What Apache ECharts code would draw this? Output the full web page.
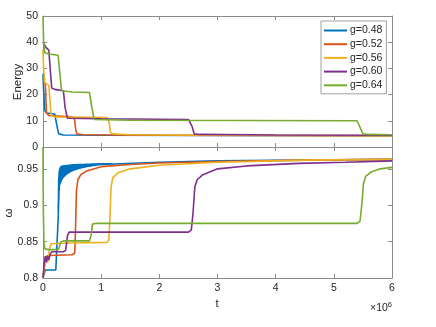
<!DOCTYPE html>
<html><head><meta charset="utf-8">
<script src="https://cdn.jsdelivr.net/npm/echarts@6/dist/echarts.min.js"></script>
<style>html,body{margin:0;padding:0;background:#fff}#c{width:436px;height:327px}</style>
</head><body><div id="c"></div>
<script>
// time in units of 1e6
const names = ['g=0.48','g=0.52','g=0.56','g=0.60','g=0.64'];
const colors = ['#0072BD','#D95319','#EDB120','#7E2F8E','#77AC30'];
const xTicks = [0,1,2,3,4,5,6];

// Energy panel
const eT1 = [0,0.01,0.03,0.06,0.2,0.23,0.25,0.27,0.35,1,3,6];
const eV1 = [28,22,14,13,12.6,12.3,7,5,4.6,4.5,4.4,4.3];
const eT2 = [0,0.02,0.04,0.06,0.1,0.5,0.54,0.56,0.58,0.7,2,6];
const eV2 = [26,25,24,13,12,11.5,11,7,5,4.7,4.5,4.3];
const eT3 = [0,0.01,0.03,0.1,0.12,0.14,0.2,1.1,1.14,1.16,1.2,1.5,3,6];
const eV3 = [37,30,24.5,23.5,18,12,11.5,11.2,9,5.5,5,4.7,4.5,4.3];
const eT4 = [0,0.05,0.1,0.13,0.15,0.2,0.35,0.38,0.42,1,2.5,2.56,2.6,2.7,4,6];
const eV4 = [40,38,37,28,22.5,22,21.5,15,11,10.8,10.5,8,5,4.8,4.6,4.5];
const eT5 = [0,0.01,0.03,0.1,0.26,0.29,0.32,0.5,0.8,0.84,0.88,1.5,5.4,5.46,5.5,5.6,6];
const eV5 = [50,40,36,35.5,35,28,21.5,21,20.8,15,10.5,10.2,10,7,5,4.8,4.7];

// omega panel
const wT1 = [0,0.02,0.04,0.22,0.245,0.26,0.28,0.32,0.4,0.6,1,2,3,4.5,6];
const wV1 = [0.800,0.806,0.811,0.811,0.813,0.88,0.93,0.942,0.948,0.952,0.956,0.959,0.961,0.962,0.963];
const wT2 = [0,0.02,0.04,0.06,0.1,0.5,0.545,0.56,0.575,0.6,0.65,0.75,1,1.5,2,3,4.5,6];
const wV2 = [0.8,0.812,0.826,0.83,0.831,0.832,0.834,0.87,0.92,0.935,0.942,0.947,0.953,0.956,0.958,0.96,0.962,0.963];
const wT3 = [0,0.02,0.05,0.09,0.11,0.14,0.5,1.1,1.13,1.15,1.17,1.2,1.3,1.5,2,3,4.5,6];
const wV3 = [0.8,0.815,0.822,0.823,0.84,0.847,0.848,0.849,0.852,0.88,0.925,0.938,0.945,0.95,0.955,0.959,0.962,0.963];
const wT4 = [0,0.02,0.04,0.06,0.08,0.1,0.12,0.15,0.35,0.39,0.42,0.45,1,2.5,2.55,2.58,2.61,2.65,2.75,3,3.5,4.4,5.2,6];
const wV4 = [0.8,0.82,0.83,0.822,0.83,0.825,0.832,0.836,0.836,0.838,0.858,0.863,0.863,0.863,0.866,0.89,0.925,0.935,0.942,0.95,0.954,0.9575,0.959,0.961];
const wT5 = [0,0.005,0.015,0.03,0.1,0.26,0.28,0.3,0.35,0.8,0.83,0.85,0.9,2,5.4,5.45,5.48,5.51,5.55,5.65,5.8,6];
const wV5 = [0.98,0.9,0.85,0.84,0.839,0.839,0.842,0.849,0.851,0.851,0.86,0.874,0.875,0.875,0.875,0.878,0.9,0.93,0.94,0.946,0.95,0.952];

// oscillation band of g=0.48 after its jump
const bandT = [0.255,0.27,0.3,0.35,0.45,0.6,0.8,1.0,1.2];
const bandLow = [0.89,0.915,0.928,0.937,0.944,0.949,0.953,0.9555,0.957];
const bandHigh = [0.93,0.948,0.954,0.955,0.956,0.957,0.9575,0.958,0.9578];

const eT = [eT1,eT2,eT3,eT4,eT5], eV = [eV1,eV2,eV3,eV4,eV5];
const wT = [wT1,wT2,wT3,wT4,wT5], wV = [wV1,wV2,wV3,wV4,wV5];
const zip = (a,b) => a.map((x,i)=>[x,b[i]]);

const FONT = "'Liberation Sans', Arial, sans-serif";
const AX = '#8c8c8c', TXT = '#262626';
function xAx(grid, pos, labels){
  return {type:'value', gridIndex:grid, position:pos, min:0, max:6, interval:1,
    axisLine:{show:true, onZero:false, lineStyle:{color:AX, width:1}},
    axisTick:{show:true, inside:true, length:4, lineStyle:{color:AX}},
    axisLabel:{show:labels, color:TXT, fontSize:10.5, fontFamily:FONT, margin:5},
    splitLine:{show:false}};
}
function yAx(grid, pos, labels, min, max, interval){
  return {type:'value', gridIndex:grid, position:pos, min:min, max:max, interval:interval,
    axisLine:{show:true, onZero:false, lineStyle:{color:AX, width:1}},
    axisTick:{show:true, inside:true, length:4, lineStyle:{color:AX}},
    axisLabel:{show:labels, color:TXT, fontSize:10.5, fontFamily:FONT, margin:5, showMaxLabel: grid===0},
    splitLine:{show:false}};
}

const series = [];
for (let i=0;i<5;i++){
  series.push({name:names[i], type:'line', xAxisIndex:0, yAxisIndex:0, data:zip(eT[i],eV[i]),
    showSymbol:false, symbol:'none', color:colors[i], lineStyle:{width:1.6}, z:2+i});
}
series.push({name:'band', type:'custom', xAxisIndex:2, yAxisIndex:2, data:[[bandT[0], bandLow[0]]], silent:true, z:1,
  clip:true,
  renderItem:function(params, api){
    const pts = [];
    for (let i=0;i<bandT.length;i++) pts.push(api.coord([bandT[i], bandHigh[i]]));
    for (let i=bandT.length-1;i>=0;i--) pts.push(api.coord([bandT[i], bandLow[i]]));
    return {type:'polygon', shape:{points:pts, smooth:0.3}, style:{fill:colors[0]}};
  }});
for (let i=0;i<5;i++){
  series.push({name:names[i], type:'line', xAxisIndex:2, yAxisIndex:2, data:zip(wT[i],wV[i]),
    showSymbol:false, symbol:'none', color:colors[i], lineStyle:{width:1.6}, z:2+i});
}

const chart = echarts.init(document.getElementById('c'), null, {renderer:'canvas'});
chart.setOption({
  animation:false,
  backgroundColor:'#fff',
  grid:[{left:43, top:16, width:349, height:131},{left:43, top:147, width:349, height:131}],
  xAxis:[xAx(0,'bottom',false), xAx(0,'top',false), xAx(1,'bottom',true), xAx(1,'top',false)],
  yAxis:[yAx(0,'left',true,0,50,10), yAx(0,'right',false,0,50,10),
         yAx(1,'left',true,0.8,0.98,0.05), yAx(1,'right',false,0.8,0.98,0.05)],
  legend:{data:names.map(n=>({name:n, icon:'rect'})), orient:'vertical', left:321, top:21, padding:[4,4,3,3], itemGap:2.7, itemWidth:23, itemHeight:2,
    backgroundColor:'#fff', borderColor:'#a0a0a0', borderWidth:1, borderRadius:0,
    textStyle:{fontSize:10.5, fontFamily:FONT, color:TXT, lineHeight:10, padding:[0,0,0,-2]}},
  graphic:[
    {type:'text', x:18, y:82, rotation:Math.PI/2, style:{text:'Energy', font:"11.5px "+FONT, fill:TXT, textAlign:'center', textVerticalAlign:'middle'}},
    {type:'text', x:9, y:213, rotation:Math.PI/2, style:{text:'ω', font:"11.5px "+FONT, fill:TXT, textAlign:'center', textVerticalAlign:'middle'}},
    {type:'text', x:217, y:304, style:{text:'t', font:"11.5px "+FONT, fill:TXT, textAlign:'center', textVerticalAlign:'middle'}},
    {type:'text', x:392, y:308, style:{rich:{a:{fontSize:10.5, fontFamily:FONT, fill:TXT}, b:{fontSize:7.5, fontFamily:FONT, fill:TXT, verticalAlign:'top', padding:[0,0,6,0]}}, text:'{a|×10}{b|6}', textAlign:'right', textVerticalAlign:'middle'}}
  ],
  series:series
});
</script></body></html>
